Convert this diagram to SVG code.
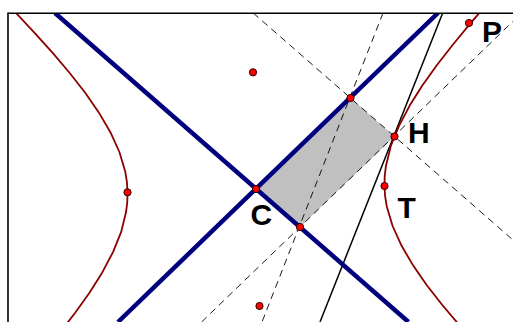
<svg xmlns="http://www.w3.org/2000/svg" width="513" height="322" viewBox="0 0 513 322">
  <defs>
    <clipPath id="frame">
      <rect x="8" y="13" width="505" height="309"/>
    </clipPath>
    <style>
      .asym { stroke: #00007f; stroke-width: 4.5; fill: none; }
      .hyp { stroke: #8b0000; stroke-width: 1.8; fill: none; stroke-linejoin: round; }
      .dash { stroke: #000; stroke-width: 0.9; stroke-dasharray: 7 5; fill: none; }
      .tan { stroke: #000; stroke-width: 1.5; fill: none; }
      .pt { fill: #ff0000; stroke: #2a0000; stroke-width: 1; }
      .lbl { font-family: "Liberation Sans", Arial, sans-serif; font-weight: bold; font-size: 30px; fill: #000; }
    </style>
  </defs>
  <rect x="0" y="0" width="513" height="322" fill="#fff"/>
  <g id="figure" clip-path="url(#frame)">
    <polygon id="parallelogram" points="256,189 350.5,98 394.5,136.5 300,227" fill="#c0c0c0"/>
    <g id="connectors">
      <line class="dash" x1="253.2" y1="13" x2="513" y2="240"/>
      <line class="dash" x1="201.6" y1="322" x2="513" y2="21.3"/>
      <line class="dash" x1="383" y1="13" x2="262" y2="322"/>
      <line class="tan" x1="442.7" y1="13" x2="320" y2="322"/>
      <line class="asym" x1="55" y1="13" x2="408.5" y2="322"/>
      <line class="asym" x1="438" y1="13" x2="118" y2="322"/>
    </g>
    <g id="hyperbola">
      <polyline class="hyp" points="505.3,-16.5 487.1,3.9 469.6,24.3 452.8,44.7 437.0,65.0 422.5,85.3 409.7,105.6 399.0,125.9 390.8,146.0 385.9,166.2 384.7,176.2 384.5,186.2 385.1,196.2 386.7,206.2 392.6,226.0 401.6,245.8 413.2,265.6 426.8,285.3 442.3,305.0 458.9,324.6"/>
      <polyline class="hyp" points="-2.0,-5.4 17.1,14.2 35.5,33.8 53.1,53.4 69.7,73.0 85.2,92.7 98.8,112.4 110.4,132.2 119.4,152.0 125.3,171.8 126.9,181.8 127.5,191.8 127.3,201.8 126.1,211.8 121.2,231.9 113.0,252.1 102.3,272.4 89.5,292.7 75.0,313.0 59.2,333.4"/>
    </g>
  </g>
  <g id="border" stroke="#000" stroke-width="1.6" fill="none">
    <line x1="8" y1="13.3" x2="513" y2="13.3"/>
    <line x1="8" y1="12.5" x2="8" y2="322"/>
  </g>
  <g id="node-C"><circle class="pt" cx="256" cy="189" r="3.6"/><text class="lbl" x="250.5" y="225">C</text></g>
  <g id="node-H"><circle class="pt" cx="394.5" cy="136.5" r="3.6"/><text class="lbl" x="408" y="143.3">H</text></g>
  <g id="node-P"><circle class="pt" cx="469" cy="23" r="3.6"/><text class="lbl" x="482" y="41.7">P</text></g>
  <g id="node-T"><circle class="pt" cx="384.5" cy="186" r="3.6"/><text class="lbl" x="397.5" y="217.7">T</text></g>
  <g id="node-A"><circle class="pt" cx="350.5" cy="98" r="3.6"/></g>
  <g id="node-B"><circle class="pt" cx="300" cy="227" r="3.6"/></g>
  <g id="node-V"><circle class="pt" cx="127.5" cy="192.3" r="3.6"/></g>
  <g id="node-F1"><circle class="pt" cx="253" cy="72.3" r="3.6"/></g>
  <g id="node-F2"><circle class="pt" cx="259.5" cy="306" r="3.6"/></g>
</svg>
